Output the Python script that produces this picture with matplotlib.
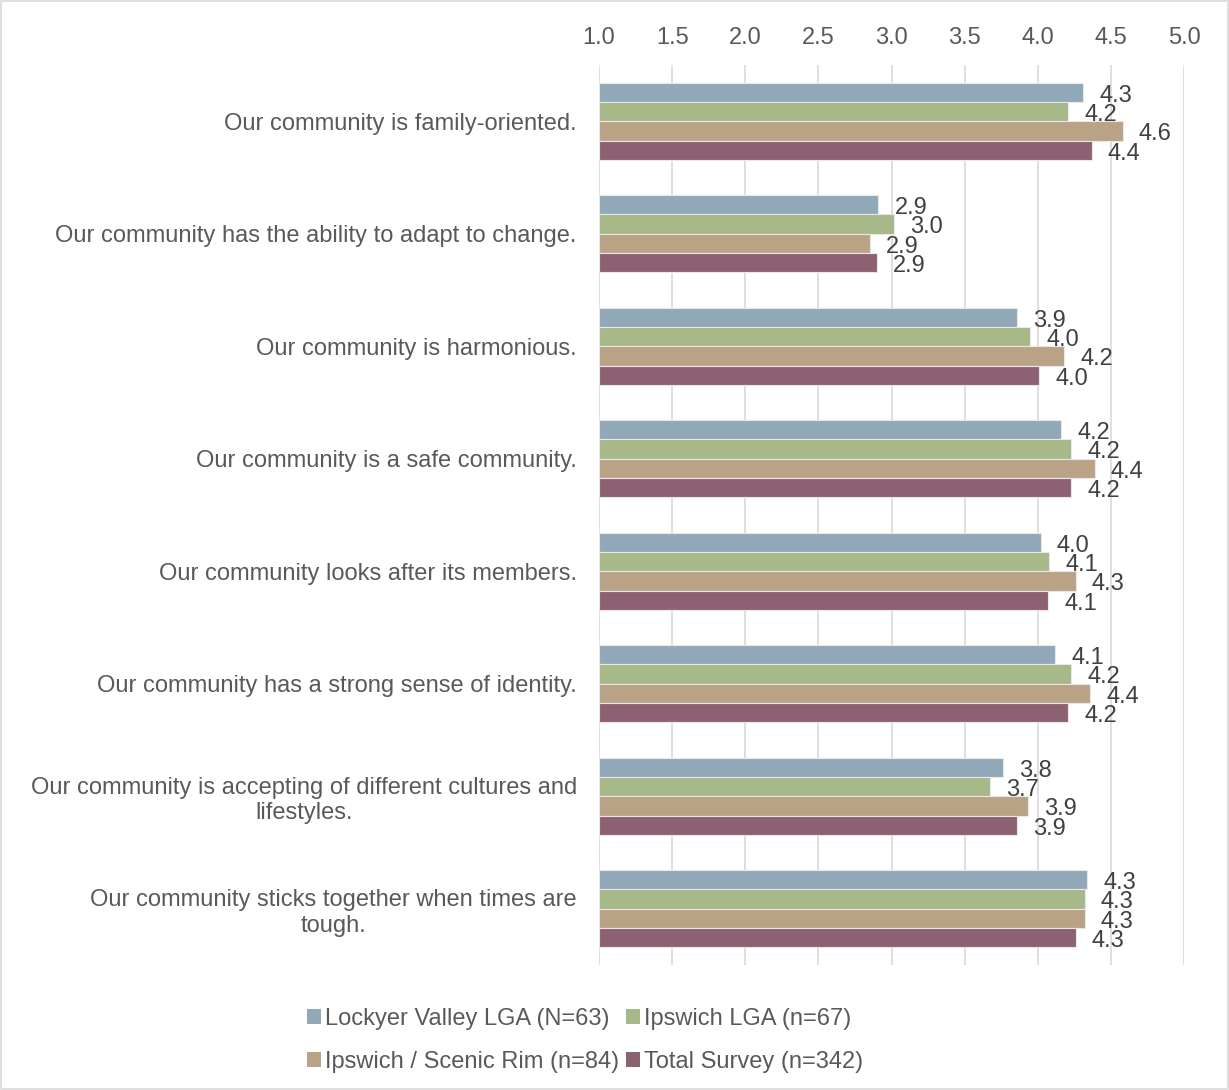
import numpy as np
import matplotlib.pyplot as plt
from matplotlib.patches import Rectangle

plt.rcParams['font.family'] = ['Liberation Sans', 'DejaVu Sans']

# data
categories = [
    "Our community is family-oriented.",
    "Our community has the ability to adapt to change.",
    "Our community is harmonious.",
    "Our community is a safe community.",
    "Our community looks after its members.",
    "Our community has a strong sense of identity.",
    "Our community is accepting of different cultures and\nlifestyles.",
    "Our community sticks together when times are\ntough.",
]
series_names = [
    "Lockyer Valley LGA (N=63)",
    "Ipswich LGA (n=67)",
    "Ipswich / Scenic Rim (n=84)",
    "Total Survey (n=342)",
]
lockyer = [4.31, 2.91, 3.86, 4.16, 4.02, 4.12, 3.76, 4.34]
ipswich = [4.21, 3.02, 3.95, 4.23, 4.08, 4.23, 3.67, 4.32]
scenic = [4.58, 2.85, 4.18, 4.39, 4.26, 4.36, 3.93, 4.32]
total = [4.37, 2.90, 4.01, 4.23, 4.07, 4.21, 3.86, 4.26]
colors = ["#91a8b9", "#a7b889", "#b9a286", "#8c6272"]

series = [lockyer, ipswich, scenic, total]
grey = "#595959"
fs = 17

fig = plt.figure(figsize=(12.29, 10.9), dpi=100)
fig.patches.append(Rectangle((0.001, 0.001), 0.998, 0.998, transform=fig.transFigure,
                             fill=False, edgecolor="#d9d9d9", linewidth=1.2))
ax = fig.add_axes([0.4874, 0.1147, 0.4760, 0.8257])

y = np.arange(len(categories))
h = 0.172
bars = []
for i, (vals, name, c) in enumerate(zip(series, series_names, colors)):
    pos = y + (i - 1.5) * h
    b = ax.barh(pos, np.array(vals) - 1.0, left=1.0, height=h, color=c,
                edgecolor="#e8e8e8", linewidth=0.8, label=name, zorder=3)
    bars.append(b)
    for p, v in zip(pos, vals):
        ax.text(v + 0.11, p + 0.03, f"{v:.1f}", va="center", ha="left",
                fontsize=fs, color="#404040", zorder=4)

ax.set_xlim(1.0, 5.0)
ax.set_ylim(len(categories) - 0.5, -0.5)
ticks = np.arange(1.0, 5.01, 0.5)
ax.set_xticks(ticks)
ax.set_xticklabels([f"{t:.1f}" for t in ticks])
ax.xaxis.tick_top()
ax.tick_params(axis="x", length=0, pad=11.5, labelsize=fs, labelcolor=grey)
ax.set_yticks(y)
ax.set_yticklabels(categories, fontsize=fs, color=grey, ha="right",
                   multialignment="center")
ax.tick_params(axis="y", length=0, pad=16)
ax.grid(axis="x", color="#d9d9d9", linewidth=1.2, zorder=0)
for s in ax.spines.values():
    s.set_visible(False)

# legend fills column-wise, so reorder to read row-wise like the reference
order = [0, 2, 1, 3]
leg = fig.legend([bars[k] for k in order], [series_names[k] for k in order],
                 loc="center", bbox_to_anchor=(0.476, 0.0455), ncol=2, frameon=False,
                 fontsize=fs, labelcolor=grey, handlelength=0.6, handleheight=0.6,
                 handletextpad=0.15, columnspacing=0.3, labelspacing=0.9)
for hnd in leg.legend_handles:
    hnd.set_edgecolor("none")

fig.savefig("out.png", dpi=100)
